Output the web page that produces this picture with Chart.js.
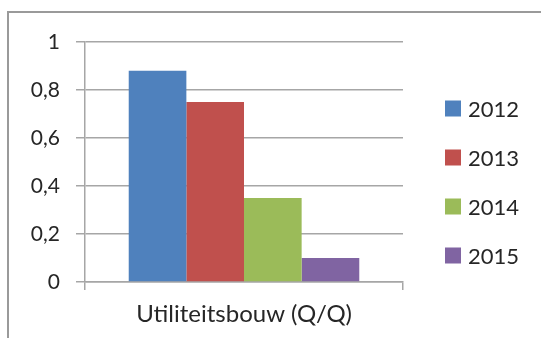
<!DOCTYPE html>
<html>
<head>
<meta charset="utf-8">
<script src="https://cdn.jsdelivr.net/npm/chart.js@4/dist/chart.umd.min.js"></script>
<style>
  html, body { margin: 0; padding: 0; background: #fff; }
  body { width: 541px; height: 338px; position: relative; overflow: hidden; }
  #frame {
    position: absolute; left: 7px; top: 11px; width: 560px; height: 360px;
    border-left: 2px solid #9a9a9a; border-top: 2px solid #9a9a9a;
  }
  #wrap { position: absolute; left: 0; top: 0; width: 541px; height: 338px; }
</style>
</head>
<body>
<div id="frame"></div>
<div id="wrap"><canvas id="chart" width="541" height="338"></canvas></div>
<script>
// Category and series
const categories = ['Utiliteitsbouw (Q/Q)'];
const seriesNames = ['2012', '2013', '2014', '2015'];
const values2012 = [0.88];
const values2013 = [0.75];
const values2014 = [0.35];
const values2015 = [0.10];
const seriesColors = ['#4F81BD', '#C0504D', '#9BBB59', '#8064A2'];
const yTickLabels = ['0', '0,2', '0,4', '0,6', '0,8', '1'];

const seriesValues = [values2012, values2013, values2014, values2015];
const textColor = '#262626';
const gridColor = '#a6a6a6';
const fontFamily = 'Lato, "Open Sans", sans-serif';

// Legend drawn to the right of the plot, one row per series
const sideLegend = {
  id: 'sideLegend',
  afterDraw(chart) {
    const ctx = chart.ctx;
    const x0 = 445, y0 = 108.5, step = 49, box = 16;
    ctx.save();
    ctx.font = '22px ' + fontFamily;
    ctx.textBaseline = 'middle';
    ctx.textAlign = 'left';
    chart.data.datasets.forEach((ds, i) => {
      const cy = y0 + i * step;
      ctx.fillStyle = ds.backgroundColor;
      ctx.fillRect(x0, cy - box / 2, box, box);
      ctx.fillStyle = textColor;
      ctx.fillText(ds.label, x0 + 23, cy + 1);
    });
    ctx.restore();
  }
};

new Chart(document.getElementById('chart'), {
  type: 'bar',
  data: {
    labels: categories,
    datasets: seriesNames.map((name, i) => ({
      label: name,
      data: seriesValues[i],
      backgroundColor: seriesColors[i],
      borderWidth: 0,
      categoryPercentage: 0.725,
      barPercentage: 1.0
    }))
  },
  options: {
    responsive: false,
    animation: false,
    layout: { padding: { left: 0, right: 138, top: 42, bottom: 0 } },
    plugins: {
      legend: { display: false },
      tooltip: { enabled: false }
    },
    scales: {
      x: {
        offset: true,
        grid: {
          display: true,
          offset: true,
          drawOnChartArea: false,
          drawTicks: true,
          tickLength: 8,
          color: gridColor,
          lineWidth: 1.5
        },
        border: { display: true, color: gridColor, width: 1.5 },
        ticks: {
          color: textColor,
          font: { family: fontFamily, size: 24 },
          padding: 10
        },
        afterFit(scale) { scale.height = 56; }
      },
      y: {
        min: 0,
        max: 1,
        ticks: {
          stepSize: 0.2,
          color: textColor,
          font: { family: fontFamily, size: 21 },
          padding: 16,
          callback: (v, i) => yTickLabels[i]
        },
        grid: {
          color: gridColor,
          lineWidth: 1.5,
          tickLength: 9
        },
        border: { display: true, color: gridColor, width: 1.5 },
        afterFit(scale) { scale.width = 85; }
      }
    }
  },
  plugins: [sideLegend]
});
</script>
</body>
</html>
